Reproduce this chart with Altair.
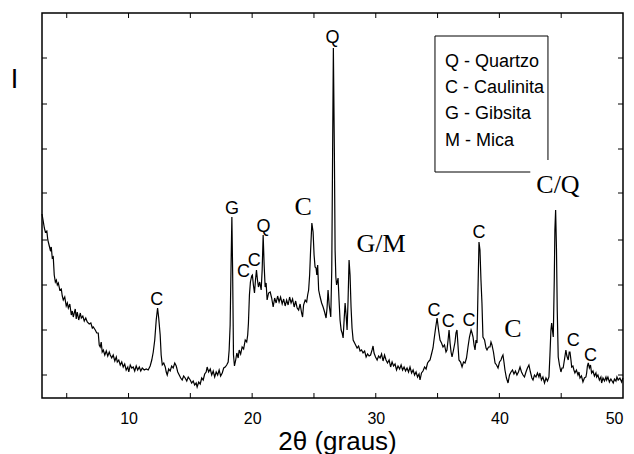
import altair as alt
import pandas as pd

# 2-theta (degrees) and intensity (arbitrary units)
theta = [
    3.00, 3.11, 3.19, 3.27, 3.39, 3.47, 3.59, 3.67, 3.75, 3.83, 3.91, 3.99,
    4.08, 4.16, 4.24, 4.32, 4.44, 4.56, 4.64, 4.72, 4.84, 4.96,
    5.05, 5.13, 5.25, 5.37, 5.45, 5.53, 5.69, 5.77, 5.85, 5.97,
    6.10, 6.18, 6.30, 6.42, 6.54, 6.66, 6.82, 6.95,
    7.07, 7.15, 7.31, 7.43, 7.55, 7.63, 7.71, 7.79, 7.87, 7.96,
    8.08, 8.20, 8.32, 8.44, 8.52, 8.64, 8.76, 8.89,
    9.01, 9.09, 9.21, 9.33, 9.45, 9.57, 9.69, 9.81, 9.94,
    10.02, 10.14, 10.26, 10.38, 10.50, 10.62, 10.74, 10.87, 10.99,
    11.11, 11.27, 11.43, 11.59, 11.75, 11.88,
    12.00, 12.12, 12.24, 12.35, 12.44, 12.56, 12.64, 12.73, 12.85, 12.97,
    13.05, 13.13, 13.25, 13.37, 13.49, 13.61, 13.74, 13.86, 13.98,
    14.10, 14.22, 14.34, 14.46, 14.58, 14.71, 14.83, 14.99,
    15.11, 15.23, 15.35, 15.47, 15.55, 15.68, 15.80, 15.92,
    16.04, 16.16, 16.28, 16.36, 16.48, 16.61, 16.73, 16.85, 16.97,
    17.09, 17.21, 17.33, 17.45, 17.58, 17.70, 17.82, 17.94,
    18.06, 18.14, 18.22, 18.30, 18.36, 18.42, 18.49, 18.57, 18.67, 18.76, 18.87, 18.95,
    19.07, 19.19, 19.31, 19.44, 19.56, 19.64, 19.70, 19.78, 19.86, 19.96,
    20.02, 20.10, 20.19, 20.27, 20.35, 20.43, 20.51, 20.61, 20.73, 20.81, 20.89, 20.97,
    21.05, 21.13, 21.21, 21.33, 21.46, 21.58, 21.70, 21.82, 21.94,
    22.06, 22.18, 22.30, 22.43, 22.55, 22.67, 22.79, 22.91,
    23.03, 23.15, 23.27, 23.40, 23.52, 23.64, 23.76, 23.88,
    24.00, 24.08, 24.16, 24.29, 24.41, 24.49, 24.57, 24.65, 24.73, 24.83, 24.93,
    25.01, 25.09, 25.17, 25.23, 25.30, 25.38, 25.50, 25.62, 25.74, 25.86, 25.98,
    26.06, 26.14, 26.23, 26.36, 26.44, 26.51, 26.57, 26.65, 26.71, 26.77, 26.83, 26.95,
    27.03, 27.11, 27.20, 27.28, 27.36, 27.44, 27.52, 27.60, 27.68, 27.76, 27.84, 27.92,
    28.00, 28.08, 28.17, 28.33, 28.49, 28.61, 28.73, 28.85, 28.97,
    29.10, 29.22, 29.34, 29.46, 29.58, 29.70, 29.78, 29.86, 29.98,
    30.11, 30.23, 30.35, 30.47, 30.59, 30.71, 30.83, 30.95,
    31.08, 31.20, 31.32, 31.44, 31.56, 31.68, 31.80, 31.93,
    32.05, 32.17, 32.29, 32.41, 32.53, 32.65, 32.77, 32.90,
    33.02, 33.14, 33.26, 33.38, 33.50, 33.58, 33.70, 33.82, 33.95,
    34.07, 34.19, 34.31, 34.39, 34.51, 34.63, 34.71, 34.84, 34.96,
    35.08, 35.20, 35.32, 35.44, 35.56, 35.68, 35.76, 35.85, 35.93,
    36.01, 36.09, 36.17, 36.29, 36.41, 36.49, 36.57, 36.65, 36.73, 36.86, 36.98,
    37.10, 37.22, 37.34, 37.46, 37.58, 37.71, 37.79, 37.87, 37.95,
    38.03, 38.11, 38.19, 38.27, 38.35, 38.43, 38.51, 38.59, 38.67, 38.80, 38.92,
    39.00, 39.12, 39.24, 39.32, 39.40, 39.52, 39.65, 39.77, 39.89,
    40.01, 40.13, 40.21, 40.29, 40.37, 40.45, 40.57, 40.70, 40.82, 40.94,
    41.06, 41.18, 41.30, 41.42, 41.54, 41.67, 41.79, 41.91,
    42.03, 42.15, 42.27, 42.39, 42.51, 42.63, 42.72, 42.84, 42.96,
    43.08, 43.20, 43.28, 43.40, 43.52, 43.65, 43.77, 43.89,
    44.01, 44.09, 44.17, 44.23, 44.29, 44.36, 44.44, 44.49, 44.55, 44.62, 44.68, 44.76, 44.86, 44.98,
    45.06, 45.16, 45.26, 45.38, 45.46, 45.57, 45.65, 45.71, 45.79, 45.85, 45.95,
    46.03, 46.11, 46.23, 46.36, 46.44, 46.52, 46.64, 46.76, 46.88,
    47.00, 47.06, 47.12, 47.19, 47.28, 47.37, 47.46, 47.57, 47.69, 47.81, 47.87, 47.97,
    48.09, 48.21, 48.27, 48.38, 48.50, 48.62, 48.68, 48.78, 48.90,
    49.02, 49.21, 49.31, 49.43, 49.51, 49.61, 49.75, 49.89, 49.99,
]

intensity = [
    184, 176, 170, 166, 167, 158, 152, 148, 151, 140, 141, 123,
    116, 118, 113, 115, 108, 109, 102, 98, 101, 92,
    95, 90, 94, 83, 87, 81, 89, 79, 86, 78,
    85, 80, 82, 77, 80, 76, 74, 75,
    70, 71, 68, 65, 65, 53, 51, 56, 46, 48,
    43, 47, 42, 46, 43, 40, 43, 37,
    41, 36, 38, 33, 36, 31, 34, 28, 31,
    26, 33, 30, 31, 27, 32, 28, 31, 27,
    30, 28, 29, 28, 32, 38,
    46, 58, 78, 90, 80, 63, 43, 33, 35, 31,
    26, 23, 29, 27, 32, 30, 35, 32, 26,
    23, 20, 18, 22, 20, 17, 21, 18,
    15, 17, 13, 15, 11, 16, 14, 20,
    18, 24, 26, 31, 26, 29, 23, 27, 21,
    26, 23, 28, 22, 25, 30, 31, 33,
    36, 48, 73, 138, 181, 128, 43, 32, 38, 45, 40, 48,
    44, 51, 49, 58, 56, 63, 75, 103, 116, 122,
    123, 113, 105, 118, 128, 118, 111, 116, 108, 128, 163, 133,
    111, 115, 98, 105, 106, 100, 91, 100, 95,
    102, 96, 101, 94, 99, 92, 98, 93,
    101, 95, 99, 91, 97, 90, 88, 94,
    85, 81, 93, 98, 96, 103, 108, 123, 148, 175, 166,
    143, 131, 130, 123, 133, 108, 101, 95, 91, 86, 80,
    90, 108, 93, 81, 128, 248, 350, 248, 148, 121, 113, 120,
    98, 78, 68, 65, 60, 78, 95, 83, 68, 98, 138, 123,
    91, 70, 58, 54, 50, 52, 47, 48, 45,
    47, 41, 44, 42, 43, 48, 52, 45, 41,
    38, 42, 40, 44, 37, 43, 38, 35,
    38, 31, 36, 32, 34, 28, 32, 29,
    33, 28, 31, 27, 30, 26, 31, 25,
    28, 23, 26, 21, 24, 18, 25, 27, 31,
    29, 35, 37, 38, 44, 50, 58, 70, 80,
    68, 58, 55, 51, 53, 46, 48, 58, 68,
    55, 46, 41, 48, 56, 65, 68, 53, 38, 36, 31,
    36, 35, 40, 51, 61, 68, 65, 61, 53,
    48, 58, 55, 108, 156, 148, 118, 95, 61, 58, 50,
    48, 51, 51, 56, 53, 46, 35, 33, 30,
    36, 38, 41, 43, 36, 28, 20, 15, 23, 26,
    28, 24, 27, 23, 26, 31, 26, 23,
    21, 26, 30, 33, 26, 20, 18, 23, 21,
    25, 21, 25, 18, 21, 15, 20, 17,
    21, 43, 68, 75, 68, 61, 118, 168, 188, 148, 88, 41, 33, 26,
    30, 30, 38, 48, 42, 38, 46, 46, 38, 31, 32,
    28, 25, 28, 23, 26, 20, 22, 16, 20,
    21, 25, 32, 35, 30, 33, 25, 27, 22, 25, 21, 23,
    18, 21, 15, 20, 17, 21, 18, 21, 16,
    19, 15, 19, 17, 21, 18, 20, 16, 20,
]
assert len(theta) == len(intensity), (len(theta), len(intensity))

# axes
x_domain = [3, 50]
y_domain = [0, 385]
x_labels = [10, 20, 30, 40, 50]
x_ticks = [5, 10, 15, 20, 25, 30, 35, 40, 45]
y_ticks = [23, 68, 113, 158, 205, 249, 294, 340]

# peak labels (sans)
sans_text = ["C", "G", "C", "C", "Q", "Q", "C", "C", "C", "C", "C", "C"]
sans_theta = [12.29, 18.38, 19.30, 20.16, 20.92, 26.51, 34.71, 35.87, 37.54, 38.35, 45.98, 47.37]
sans_int = [93, 184, 121, 132, 166, 355, 82, 71, 72, 160, 52, 37]

# peak labels (serif)
serif_text = ["C", "G/M", "C", "C/Q"]
serif_theta = [24.12, 30.43, 41.10, 44.74]
serif_int = [183, 146, 61, 205]

# legend box
legend_lines = ["Q - Quartzo", "C - Caulinita", "G - Gibsita", "M - Mica"]
legend_theta = [35.60, 35.60, 35.60, 35.60]
legend_int = [331, 305, 279, 252]
box_theta = [34.79, 43.93]
box_int = [226, 362]
mask_theta = [42.50, 47.20]
mask_int = [198, 238]

SANS = "Liberation Sans"
SERIF = "Liberation Serif"

df = pd.DataFrame({"t": theta, "i": intensity})
xs = alt.Scale(domain=x_domain, nice=False, zero=False)
ys = alt.Scale(domain=y_domain, nice=False, zero=False)

xaxis = alt.Axis(
    values=x_labels, format="d", grid=False, ticks=False, tickSize=0, domain=False,
    labelFont=SANS, labelFontSize=16, labelColor="black", labelPadding=12,
    labelFlush=True, labelOverlap=False,
    title="2θ (graus)", titleFont=SANS, titleFontSize=26, titleFontWeight="normal",
    titleColor="black", titleX=295, titleY=51, titleAlign="center",
    titleBaseline="alphabetic")
yaxis = alt.Axis(
    labels=False, ticks=False, domain=False, grid=False,
    title="I", titleAngle=0, titleX=-28, titleY=66, titleAlign="center",
    titleBaseline="middle", titleFont=SANS, titleFontSize=27,
    titleFontWeight="normal", titleColor="black")


def X(field="t"):
    return alt.X(f"{field}:Q", scale=xs, axis=xaxis, title="2θ (graus)")


def Y(field="i"):
    return alt.Y(f"{field}:Q", scale=ys, axis=yaxis, title="I")


line = alt.Chart(df).mark_line(color="black", strokeWidth=1.2).encode(
    x=X(), y=Y(), order="t:Q")

box = alt.Chart(pd.DataFrame({"t": [box_theta[0]], "t2": [box_theta[1]],
                              "i": [box_int[0]], "i2": [box_int[1]]})).mark_rect(
    fill="white", stroke="black", strokeWidth=1).encode(
    x=X(), x2="t2", y=Y(), y2="i2")

mask = alt.Chart(pd.DataFrame({"t": [mask_theta[0]], "t2": [mask_theta[1]],
                               "i": [mask_int[0]], "i2": [mask_int[1]]})).mark_rect(
    fill="white", strokeWidth=0).encode(
    x=X(), x2="t2", y=Y(), y2="i2")

legend = alt.Chart(pd.DataFrame({"t": legend_theta, "i": legend_int, "s": legend_lines})).mark_text(
    font=SANS, fontSize=18, align="left", baseline="alphabetic", color="black").encode(
    x=X(), y=Y(), text="s:N")

sans_lbl = alt.Chart(pd.DataFrame({"t": sans_theta, "i": sans_int, "s": sans_text})).mark_text(
    font=SANS, fontSize=18, align="center", baseline="alphabetic", color="black").encode(
    x=X(), y=Y(), text="s:N")

serif_lbl = alt.Chart(pd.DataFrame({"t": serif_theta, "i": serif_int, "s": serif_text})).mark_text(
    font=SERIF, fontSize=26, align="center", baseline="alphabetic", color="black").encode(
    x=X(), y=Y(), text="s:N")

xt = pd.DataFrame({"t": x_ticks})
yt = pd.DataFrame({"i": y_ticks})
tick_b = alt.Chart(xt).mark_rule(color="black", strokeWidth=1).encode(
    x=X(), y=alt.value(385), y2=alt.value(380))
tick_t = alt.Chart(xt).mark_rule(color="black", strokeWidth=1).encode(
    x=X(), y=alt.value(0), y2=alt.value(5))
tick_l = alt.Chart(yt).mark_rule(color="black", strokeWidth=1).encode(
    y=Y(), x=alt.value(0), x2=alt.value(5))
tick_r = alt.Chart(yt).mark_rule(color="black", strokeWidth=1).encode(
    y=Y(), x=alt.value(581), x2=alt.value(576))

chart = alt.layer(
    line, box, mask, legend, sans_lbl, serif_lbl, tick_b, tick_t, tick_l, tick_r
).properties(
    width=581, height=385,
    autosize=alt.AutoSizeParams(type="none"),
    padding={"left": 34, "top": 5, "right": 3, "bottom": 56},
    background="white",
).configure_view(stroke="black", strokeWidth=1.5)

chart.save("out.html", embed_options={"renderer": "svg", "actions": False})
